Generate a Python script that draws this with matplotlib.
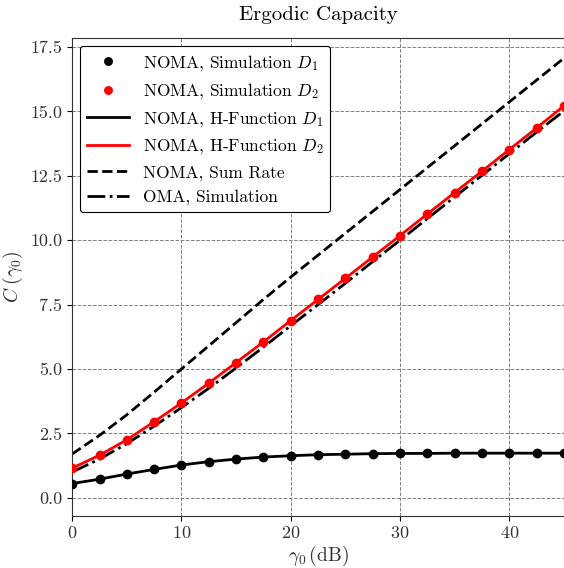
import matplotlib
matplotlib.use("Agg")
import matplotlib.pyplot as plt

plt.rcParams['font.family'] = 'serif'
plt.rcParams['font.serif'] = ['cmr10']
plt.rcParams['mathtext.fontset'] = 'cm'
plt.rcParams['axes.formatter.use_mathtext'] = True

# SNR in dB
snr_db = [0, 2.5, 5, 7.5, 10, 12.5, 15, 17.5, 20, 22.5, 25, 27.5, 30, 32.5, 35, 37.5, 40, 42.5, 45]

# NOMA user D1 / D2 capacity
cap_d1 = [0.55, 0.72, 0.92, 1.10, 1.27, 1.40, 1.50, 1.58, 1.63, 1.67, 1.69, 1.71, 1.72, 1.72, 1.73, 1.73, 1.73, 1.73, 1.73]
cap_d2 = [1.15, 1.65, 2.25, 2.95, 3.68, 4.45, 5.25, 6.05, 6.88, 7.70, 8.52, 9.35, 10.18, 11.02, 11.85, 12.68, 13.52, 14.36, 15.22]
sum_rate = [1.70, 2.42, 3.22, 4.10, 5.00, 5.90, 6.80, 7.70, 8.57, 9.42, 10.27, 11.12, 11.97, 12.82, 13.67, 14.52, 15.37, 16.22, 17.07]
oma = [1.00, 1.50, 2.10, 2.78, 3.50, 4.25, 5.04, 5.85, 6.68, 7.50, 8.33, 9.17, 10.00, 10.84, 11.68, 12.52, 13.36, 14.20, 15.02]

fig = plt.figure(figsize=(5.64, 5.68), dpi=100)
ax = fig.add_axes([0.128, 0.092, 0.872, 0.841])

ax.plot(snr_db, cap_d1, 'o', color='black', ms=6, label='NOMA, Simulation $D_1$', zorder=4)
ax.plot(snr_db, cap_d2, 'o', color='red', ms=6, label='NOMA, Simulation $D_2$', zorder=4)
ax.plot(snr_db, cap_d1, '-', color='black', lw=2, label='NOMA, H-Function $D_1$', zorder=3)
ax.plot(snr_db, cap_d2, '-', color='red', lw=2, label='NOMA, H-Function $D_2$', zorder=3)
ax.plot(snr_db, sum_rate, '--', color='black', lw=2, label='NOMA, Sum Rate')
ax.plot(snr_db, oma, '-.', color='black', lw=2, label='OMA, Simulation')

ax.set_xlim(0, 45)
ax.set_ylim(-0.7, 17.85)
ax.set_xticks([0, 10, 20, 30, 40])
ax.set_yticks([0, 2.5, 5, 7.5, 10, 12.5, 15, 17.5])
ax.set_yticklabels(['0.0', '2.5', '5.0', '7.5', '10.0', '12.5', '15.0', '17.5'])
ax.grid(True, linestyle='--', color='grey', lw=0.7)
ax.tick_params(labelsize=13, direction='out', labelcolor='#333333')
for s in ax.spines.values():
    s.set_color('#333333')

ax.set_xlabel(r'$\gamma_0\,$(dB)', fontsize=14, labelpad=2, color='#333333')
ax.set_ylabel(r'$C\;(\gamma_0)$', fontsize=14, color='#333333')
ax.set_title('Ergodic Capacity', fontsize=15, pad=13)

leg = ax.legend(loc='upper left', fontsize=12.5, frameon=True, fancybox=True,
                edgecolor='black', framealpha=1, handlelength=2.4,
                borderaxespad=0.45, labelspacing=0.5, markerscale=0.9)
leg.get_frame().set_linewidth(0.8)

fig.savefig('out.png', dpi=100)
